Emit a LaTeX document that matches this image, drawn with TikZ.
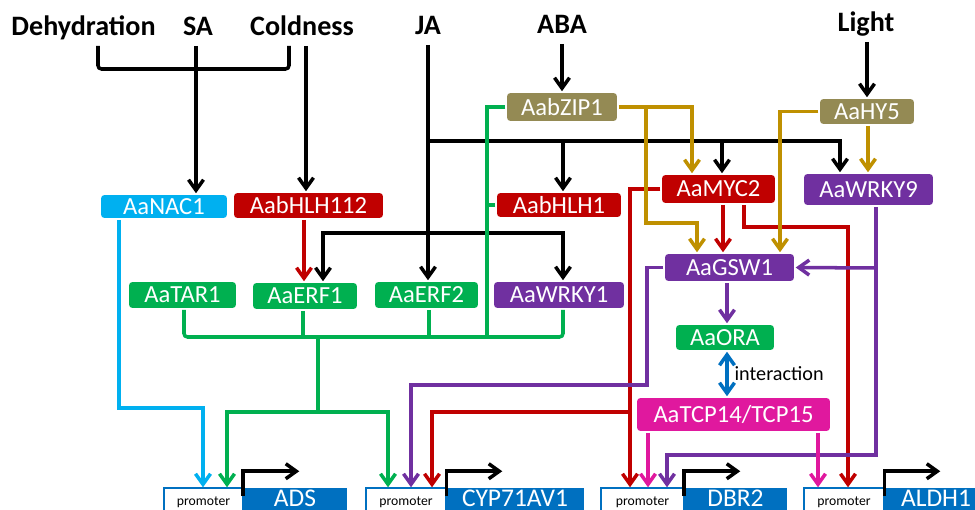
\documentclass[tikz,border=0pt]{standalone}
\usepackage{fontspec}
\setmainfont{Carlito}
\usetikzlibrary{arrows.meta}
\definecolor{nacblue}{HTML}{00B0F0}
\definecolor{tfred}{HTML}{C00000}
\definecolor{tfgreen}{HTML}{00B050}
\definecolor{tfpurple}{HTML}{7030A0}
\definecolor{tfolive}{HTML}{948A54}
\definecolor{tfgold}{HTML}{BF9000}
\definecolor{tfpink}{HTML}{E0189E}
\definecolor{genblue}{HTML}{0070C0}

\begin{document}
\begin{tikzpicture}[x=0.02cm,y=-0.02cm,>={Straight Barb[length=2.1mm,width=3mm]},line width=2pt,
    sig/.style={font=\fontsize{16}{19}\selectfont\bfseries,anchor=base,inner sep=0pt,text depth=0.16cm},
    tf/.style={fill=#1,text=white,rounded corners=2pt,inner sep=0pt,font=\fontsize{14}{16}\selectfont},
    prom/.style={draw=genblue,line width=0.8pt,fill=white,anchor=base,inner sep=0pt,text height=0.34cm,text depth=0.3cm,font=\fontsize{7.8}{9}\selectfont},
    gene/.style={fill=genblue,text=white,anchor=base,inner sep=0pt,text height=0.36cm,text depth=0.3cm,font=\fontsize{14.5}{17}\selectfont},
    tss/.style={->,black}]
  \useasboundingbox (0,0) rectangle (975,510);
  \clip (0,0) rectangle (975,510);

  \node[sig] (dehyd) at (83.5,36) {Dehydration};
  \node[sig] (sa)    at (198,36)  {SA};
  \node[sig] (cold)  at (302,36)  {Coldness};
  \node[sig] (ja)    at (428,35)  {JA};
  \node[sig] (aba)   at (562,34)  {ABA};
  \node[sig] (light) at (866,32)  {Light};

  \node[tf=nacblue,  minimum width=2.52cm,minimum height=0.46cm] (NAC1)   at (164,206.5) {AaNAC1};
  \node[tf=tfred,    minimum width=2.98cm,minimum height=0.5cm]  (HLH112) at (308.5,205.5) {AabHLH112};
  \node[tf=tfgreen,  minimum width=2.14cm,minimum height=0.52cm] (TAR1)   at (182.5,295) {AaTAR1};
  \node[tf=tfgreen,  minimum width=2.08cm,minimum height=0.52cm] (ERF1)   at (305,296)   {AaERF1};
  \node[tf=tfgreen,  minimum width=2.06cm,minimum height=0.52cm] (ERF2)   at (426.5,295) {AaERF2};
  \node[tf=tfpurple, minimum width=2.6cm, minimum height=0.52cm] (WRKY1)  at (559,295)   {AaWRKY1};
  \node[tf=tfolive,  minimum width=2.2cm, minimum height=0.56cm] (ZIP1)   at (562,107)   {AabZIP1};
  \node[tf=tfred,    minimum width=2.48cm,minimum height=0.48cm] (HLH1)   at (559,205)   {AabHLH1};
  \node[tf=tfred,    minimum width=2.26cm,minimum height=0.56cm] (MYC2)   at (718.5,189) {AaMYC2};
  \node[tf=tfpurple, minimum width=2.58cm,minimum height=0.62cm] (WRKY9)  at (868.5,189.5) {AaWRKY9};
  \node[tf=tfolive,  minimum width=1.88cm,minimum height=0.5cm]  (HY5)    at (867,111.5) {AaHY5};
  \node[tf=tfpurple, minimum width=2.58cm,minimum height=0.54cm] (GSW1)   at (729.5,267.5) {AaGSW1};
  \node[tf=tfgreen,  minimum width=1.96cm,minimum height=0.5cm]  (ORA)    at (725,337.5) {AaORA};
  \node[tf=tfpink,   minimum width=3.86cm,minimum height=0.66cm] (TCP)    at (733.5,414.5) {AaTCP14/TCP15};

  \node[prom,minimum width=1.58cm] (pADS)   at (203.5,505) {promoter};
  \node[gene,minimum width=2.08cm] (ADS)    at (295,506)   {ADS};
  \node[prom,minimum width=1.6cm]  (pCYP)   at (406,505)   {promoter};
  \node[gene,minimum width=2.76cm] (CYP)    at (515,506)   {CYP71AV1};
  \node[prom,minimum width=1.66cm] (pDBR2)  at (642.5,505) {promoter};
  \node[gene,minimum width=2.06cm] (DBR2)   at (735.5,506) {DBR2};
  \node[prom,minimum width=1.6cm]  (pALDH1) at (844,505)   {promoter};
  \node[gene,minimum width=2.08cm] (ALDH1)  at (936,506)   {ALDH1};

  \draw[tss] (ADS.north west)   ++(2,10) |- ++(56,-25);
  \draw[tss] (CYP.north west)   ++(2,10) |- ++(56,-25);
  \draw[tss] (DBR2.north west)  ++(2,10) |- ++(56,-25);
  \draw[tss] (ALDH1.north west) ++(2,10) |- ++(56,-25);

  \draw[rounded corners=2pt] (dehyd.south -| 98,0) |- (289,69) -- (cold.south -| 289,0);
  \draw[->] (sa.south -| 196,0) -- (NAC1.north -| 196,0);
  \draw[->] (cold.south -| 306,0) -- (HLH112.north -| 306,0);
  \draw[->] (ja.south) -- (ja.south |- ERF2.north);
  \draw[->] (ja.south |- 0,141) -| (WRKY9.north -| 840,0);
  \draw[->] (563,141) -- (HLH1.north -| 563,0);
  \draw[->] (722,141) -- (MYC2.north -| 722,0);
  \draw[->] (ja.south |- 0,233) -| (ERF1.north -| 323,0);
  \draw[->] (ja.south |- 0,233) -| (WRKY1.north -| 563,0);
  \draw[->] (aba.south) -- (aba.south |- ZIP1.north);
  \draw[->] (light.south -| 867,0) -- (HY5.north -| 867,0);

  \draw[tfred,->] (HLH112.south -| 304,0) -- (ERF1.north -| 304,0);
  \draw[tfred,->] (MYC2.west) -| (pDBR2.north -| 630,0);
  \draw[tfred,->] (630,412) -| (pCYP.north -| 432,0);
  \draw[tfred,->] (MYC2.south -| 723,0) -- (GSW1.north -| 723,0);
  \draw[tfred,->] (MYC2.south -| 744,0) |- (848,227) -- (pALDH1.north -| 848,0);

  \draw[tfgold,->] (ZIP1.east) -| (MYC2.north -| 692,0);
  \draw[tfgold,->] (646,107) |- (697,223) -- (GSW1.north -| 697,0);
  \draw[tfgold,->] (HY5.west) -| (GSW1.north -| 780,0);
  \draw[tfgold,->] (HY5.south -| 868,0) -- (WRKY9.north -| 868,0);

  \draw[tfgreen] (ZIP1.west) -| (487,337);
  \draw[tfgreen] (HLH1.west) -- (487,205);
  \draw[tfgreen,rounded corners=2pt] (TAR1.south -| 184,0) |- (563,337) -- (WRKY1.south -| 563,0);
  \draw[tfgreen] (ERF1.south -| 303,0) -- (303,337);
  \draw[tfgreen] (ERF2.south -| 429,0) -- (429,337);
  \draw[tfgreen,->] (318,337) -- (318,412) -| (pADS.north -| 227,0);
  \draw[tfgreen,->] (318,412) -| (pCYP.north -| 388,0);

  \draw[nacblue,->] (NAC1.south -| 119,0) |- (203,408) -- (pADS.north -| 203,0);

  \draw[tfpurple,->] (GSW1.west) -| (647,385) -| (pCYP.north -| 411,0);
  \draw[tfpurple,->] (WRKY9.south -| 876,0) |- (667,455) -- (pDBR2.north -| 667,0);
  \draw[tfpurple,->] (876,268) -- (GSW1.east);
  \draw[tfpurple,->] (GSW1.south -| 727,0) -- (ORA.north -| 727,0);

  \draw[genblue,<->] (ORA.south -| 727,0) -- (TCP.north -| 727,0)
    node[midway,right=0pt,text=black,font=\fontsize{11.5}{13}\selectfont] {interaction};

  \draw[tfpink,->] (TCP.south -| 648,0) -- (pDBR2.north -| 648,0);
  \draw[tfpink,->] (TCP.south -| 818,0) -- (pALDH1.north -| 818,0);
\end{tikzpicture}
\end{document}
